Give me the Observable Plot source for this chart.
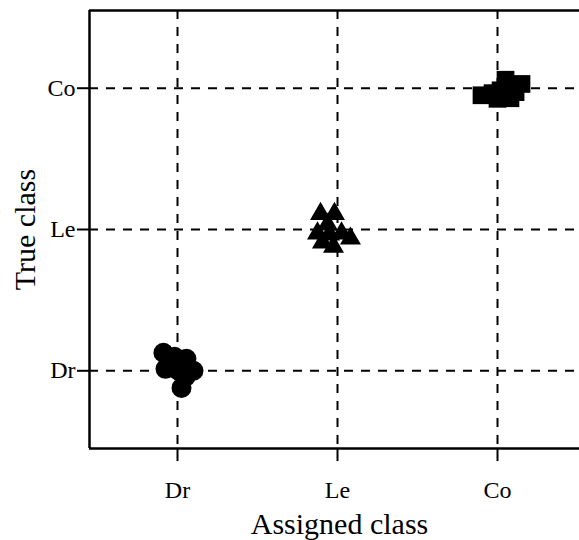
<!DOCTYPE html>
<html>
<head>
<meta charset="utf-8">
<script src="https://cdn.jsdelivr.net/npm/d3@7"></script>
<script src="https://cdn.jsdelivr.net/npm/@observablehq/plot@0.6"></script>
<style>
  html, body { margin: 0; padding: 0; background: #fff; overflow: hidden; }
</style>
</head>
<body>
<div id="chart"></div>
<script>
// Class labels (tick labels) and their positions
const classes = ["Dr", "Le", "Co"];
const classTicks = [1, 2, 3];

// Dr samples (circles): assigned class vs true class (jittered)
const drAssigned = [0.912, 1.056, 1.100, 1.025, 0.925, 1.006, 0.981, 1.050];
const drTrue     = [1.128, 1.085, 1.000, 0.879, 1.014, 1.000, 1.099, 0.957];

// Le samples (triangles)
const leAssigned = [1.894, 1.981, 1.938, 1.875, 1.950, 2.025, 2.081, 1.975, 1.906];
const leTrue     = [2.110, 2.110, 2.035, 1.972, 1.965, 1.972, 1.936, 1.879, 1.908];

// Co samples (squares)
const coAssigned = [2.900, 2.969, 3.050, 3.150, 3.081, 3.019, 3.113, 3.000];
const coTrue     = [2.950, 2.965, 3.060, 3.030, 2.929, 2.985, 2.972, 2.925];

const xDomain = [0.45, 3.5125];
const yDomain = [0.45, 3.55];

const toRows = (xs, ys) => xs.map((x, i) => ({assigned: x, truth: ys[i]}));
const dr = toRows(drAssigned, drTrue);
const le = toRows(leAssigned, leTrue);
const co = toRows(coAssigned, coTrue);

const fmt = d => classes[d - 1];
const dash = {stroke: "black", strokeWidth: 2, strokeDasharray: "9,8"};

const chart = Plot.plot({
  width: 579,
  height: 540,
  marginLeft: 89,
  marginRight: 0,
  marginTop: 10,
  marginBottom: 92,
  style: {fontFamily: "'Liberation Serif', 'Times New Roman', serif", background: "#fff", color: "black"},
  x: {domain: xDomain, axis: null},
  y: {domain: yDomain, axis: null},
  marks: [
    Plot.ruleX(classTicks, dash),
    Plot.ruleY(classTicks, dash),
    Plot.dot(dr, {x: "assigned", y: "truth", symbol: "circle", r: 10, fill: "black", stroke: "none"}),
    Plot.dot(le, {x: "assigned", y: "truth", symbol: "triangle", r: 7.8, fill: "black", stroke: "none"}),
    Plot.dot(co, {x: "assigned", y: "truth", symbol: "square", r: 10, fill: "black", stroke: "none"}),
    Plot.ruleX([xDomain[0]], {stroke: "black", strokeWidth: 2.5}),
    Plot.ruleY(yDomain, {stroke: "black", strokeWidth: 2.5}),
    Plot.axisX(classTicks, {anchor: "bottom", tickSize: 13, tickPadding: 19, tickFormat: fmt, fontSize: 24, strokeWidth: 2, label: null, color: "black"}),
    Plot.axisY(classTicks, {anchor: "left", tickSize: 12, tickPadding: 2, tickFormat: fmt, fontSize: 24, strokeWidth: 2, label: null, color: "black"}),
    Plot.text(["Assigned class"], {frameAnchor: "bottom", textAnchor: "middle", lineAnchor: "bottom", dy: 85, dx: 5, fontSize: 30, fill: "black"}),
    Plot.text(["True class"], {frameAnchor: "left", textAnchor: "middle", lineAnchor: "middle", dx: -64, rotate: -90, fontSize: 30, fill: "black"})
  ]
});
document.getElementById("chart").appendChild(chart);
</script>
</body>
</html>
